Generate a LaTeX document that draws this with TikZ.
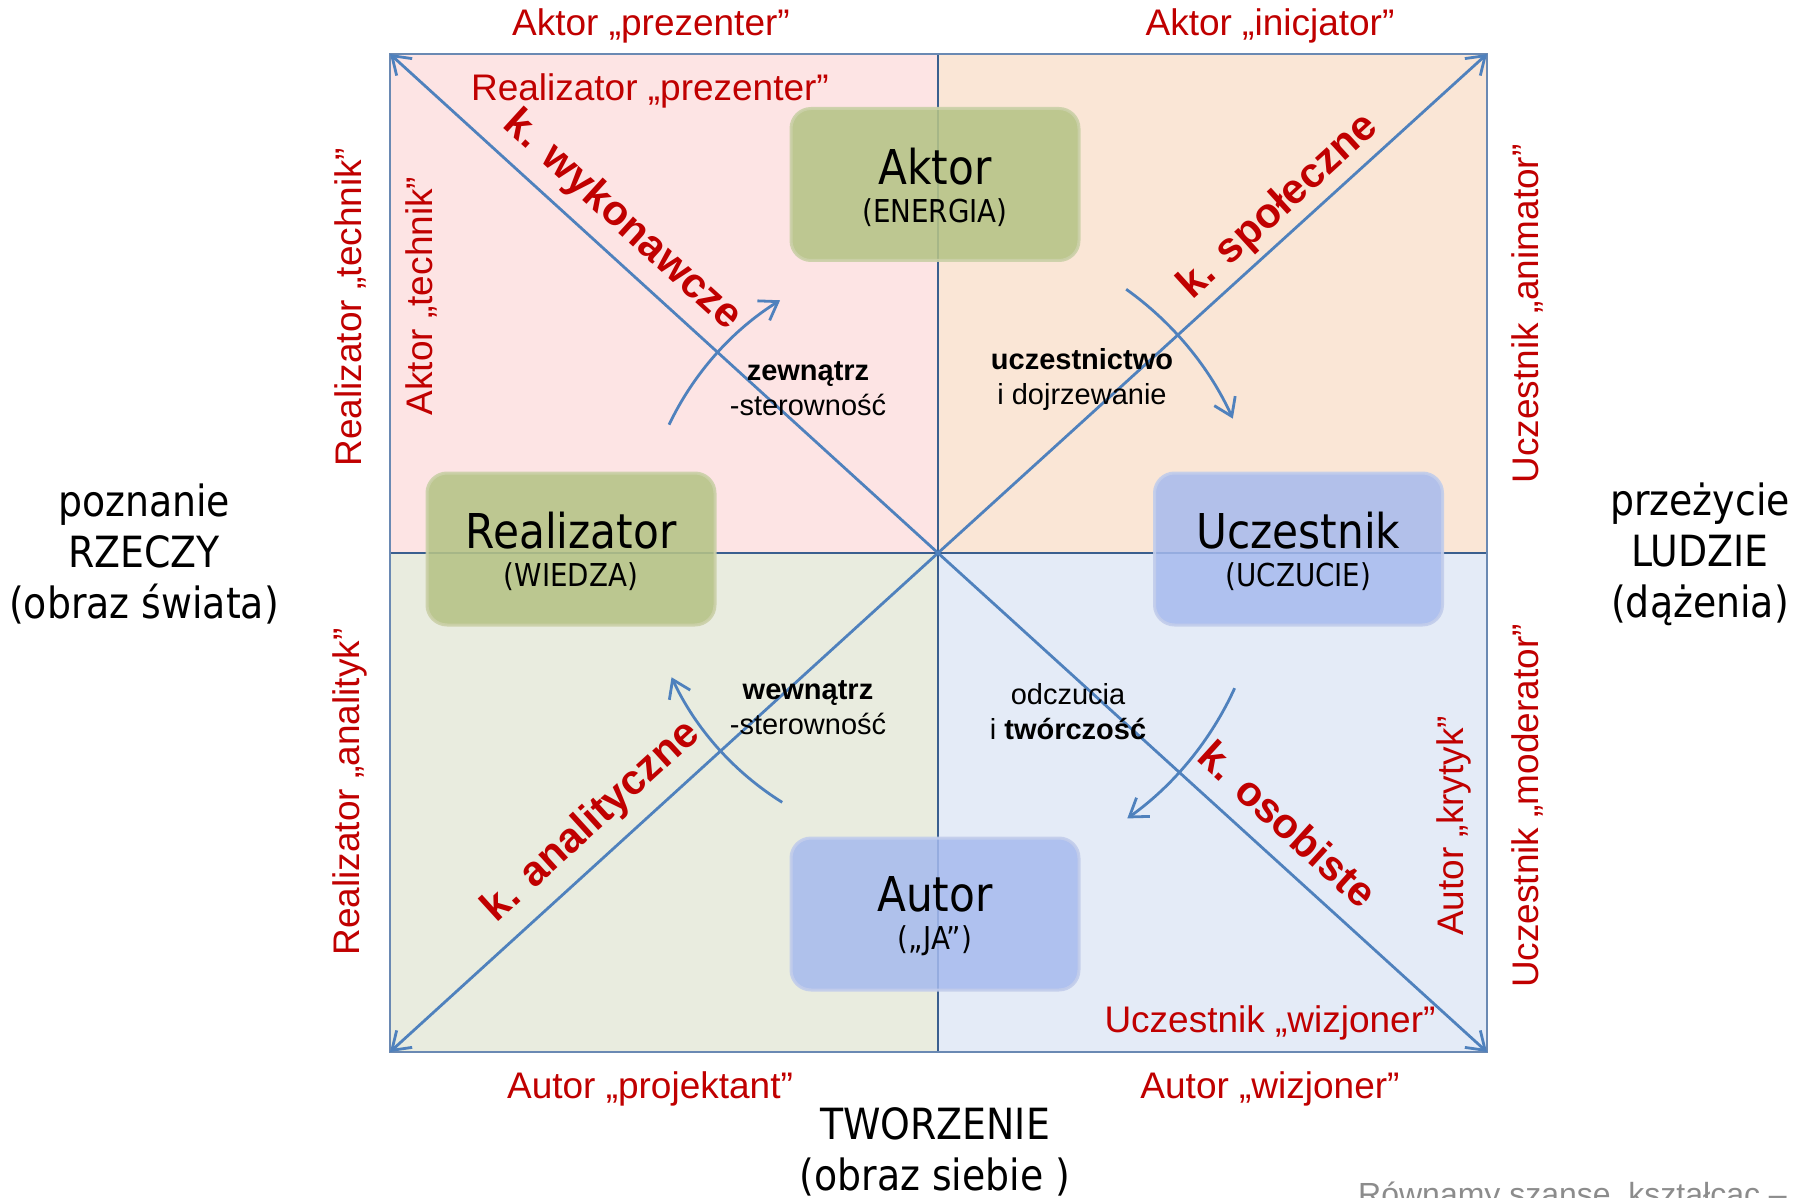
\documentclass[tikz,border=0pt]{standalone}
\usepackage{fontspec}
\setmainfont{Liberation Sans}
\newfontfamily\tah[FakeStretch=0.88]{DejaVu Sans}
\usetikzlibrary{arrows.meta}
\definecolor{qTL}{HTML}{FDE4E4}
\definecolor{qTR}{HTML}{FAE6D6}
\definecolor{qBL}{HTML}{E9ECDF}
\definecolor{qBR}{HTML}{E4EBF7}
\definecolor{framec}{HTML}{6A89B3}
\definecolor{axisc}{HTML}{3A5F8F}
\definecolor{diagc}{HTML}{4F81BD}
\definecolor{lblc}{HTML}{C00000}
\definecolor{boxG}{HTML}{B5C386}
\definecolor{boxGr}{HTML}{CBD0A8}
\definecolor{boxB}{HTML}{A6BAEE}
\definecolor{boxBr}{HTML}{C2CDEB}
\definecolor{footc}{HTML}{8C8C8C}
\tikzset{
  tip/.style={-{Straight Barb[length=17pt,width=23pt,line width=2.8pt]}},
  diagline/.style={draw=diagc,line width=2.8pt,tip},
  swirl/.style={draw=diagc,line width=2.8pt,tip},
  gbox/.style={rounded corners=20pt,fill=boxG,fill opacity=0.88,draw=boxGr,draw opacity=0.9,line width=3pt,minimum width=288pt,minimum height=152pt},
  bbox/.style={rounded corners=20pt,fill=boxB,fill opacity=0.85,draw=boxBr,draw opacity=0.9,line width=3pt,minimum width=288pt,minimum height=152pt},
  boxtxt/.style={align=center,inner sep=0pt,font=\tah\fontsize{31.5}{38}\selectfont},
  rlab/.style={text=lblc,inner sep=0pt,font=\fontsize{37}{40}\selectfont},
  klab/.style={text=lblc,inner sep=0pt,font=\bfseries\fontsize{42}{46}\selectfont},
  slab/.style={align=center,inner sep=0pt,font=\fontsize{29}{35}\selectfont},
  biglab/.style={align=center,inner sep=0pt,font=\tah\fontsize{43}{51}\selectfont},
}
\begin{document}
\begin{tikzpicture}[x=1pt,y=-1pt]
\useasboundingbox (0,0) rectangle (1810,1198);
\clip (0,0) rectangle (1810,1198);
\fill[white] (0,0) rectangle (1810,1198);
\coordinate (TLc) at (390,54);
\coordinate (TRc) at (1487,54);
\coordinate (BLc) at (390,1052);
\coordinate (BRc) at (1487,1052);
\coordinate (ctr) at (938,553);
\coordinate (Tm) at (938,54);
\coordinate (Bm) at (938,1052);
\coordinate (Lm) at (390,553);
\coordinate (Rm) at (1487,553);
% quadrants
\fill[qTL] (TLc) rectangle (ctr);
\fill[qTR] (Tm) rectangle (Rm);
\fill[qBL] (Lm) rectangle (Bm);
\fill[qBR] (ctr) rectangle (BRc);
% axes
\draw[axisc,line width=2pt] (Tm) -- (Bm);
\draw[axisc,line width=2pt] (Lm) -- (Rm);
\draw[framec,line width=2.6pt] (TLc) rectangle (BRc);
% diagonals
\draw[diagline] (ctr) -- (TLc);
\draw[diagline] (ctr) -- (TRc);
\draw[diagline] (ctr) -- (BLc);
\draw[diagline] (ctr) -- (BRc);
% swirl arrows
\draw[swirl] ([shift={(154.5:298pt)}]ctr) arc[start angle=154.5,end angle=122,radius=298pt];
\draw[swirl] ([shift={(54.5:324pt)}]ctr) arc[start angle=54.5,end angle=24.5,radius=324pt];
\draw[swirl] ([shift={(-24.5:326pt)}]ctr) arc[start angle=-24.5,end angle=-54.5,radius=326pt];
\draw[swirl] ([shift={(-122:294pt)}]ctr) arc[start angle=-122,end angle=-155,radius=294pt];
% boxes
\node[gbox] (aktor) at (935,184.5) {};
\node[gbox] (realizator) at (571,549) {};
\node[bbox] (uczestnik) at (1298.5,549) {};
\node[bbox] (autor) at (935,914) {};
\node[boxtxt] (aktorT) at (935,187) {{\fontsize{48}{38}\selectfont Aktor}\\(ENERGIA)};
\node[boxtxt] (realizatorT) at (571,551) {{\fontsize{48}{38}\selectfont Realizator}\\(WIEDZA)};
\node[boxtxt] (uczestnikT) at (1298.5,551) {{\fontsize{48}{38}\selectfont Uczestnik}\\(UCZUCIE)};
\node[boxtxt] (autorT) at (935,916) {{\fontsize{48}{38}\selectfont Autor}\\(„JA”)};
% red labels
\node[rlab] (l1) at (651,26) {Aktor „prezenter”};
\node[rlab] (l2) at (1270,26) {Aktor „inicjator”};
\node[rlab] (l3) at (650,91) {Realizator „prezenter”};
\node[rlab,rotate=90] (l4) at (350,307) {Realizator „technik”};
\node[rlab,rotate=90] (l5) at (421,296) {Aktor „technik”};
\node[rlab,rotate=90] (l6) at (1527,314) {Uczestnik „animator”};
\node[rlab,rotate=90] (l7) at (350,792) {Realizator „analityk”};
\node[rlab,rotate=90] (l8) at (1527,806) {Uczestnik „moderator”};
\node[rlab,rotate=90] (l9) at (1454,826) {Autor „krytyk”};
\node[rlab] (l10) at (1270,1023) {Uczestnik „wizjoner”};
\node[rlab] (l11) at (650,1089) {Autor „projektant”};
\node[rlab] (l12) at (1270,1089) {Autor „wizjoner”};
% k labels
\node[klab,rotate=-42.3] (k1) at (622,221) {k. wykonawcze};
\node[klab,rotate=42.3] (k2) at (1279,207) {k. społeczne};
\node[klab,rotate=42.3] (k3) at (592,822) {k. analityczne};
\node[klab,rotate=-42.3] (k4) at (1288,824) {k. osobiste};
% small labels
\node[slab] (s1) at (808,389) {\textbf{zewnątrz}\\-sterowność};
\node[slab] (s2) at (1082,380) {\textbf{uczestnictwo}\\i dojrzewanie};
\node[slab] (s3) at (808,708) {\textbf{wewnątrz}\\-sterowność};
\node[slab] (s4) at (1068,712) {odczucia\\i \textbf{twórczość}};
% big labels
\node[biglab] (left) at (144,554) {poznanie\\RZECZY\\(obraz świata)};
\node[biglab] (right) at (1700,554) {przeżycie\\LUDZIE\\(dążenia)};
\node[biglab] (bottom) at (935,1152) {TWORZENIE\\(obraz siebie )};
% footer
\node[anchor=base west,inner sep=0pt,text=footc,font=\fontsize{32}{36}\selectfont] (foot) at (1358,1205) {Równamy szanse, kształcąc –};
\end{tikzpicture}
\end{document}
